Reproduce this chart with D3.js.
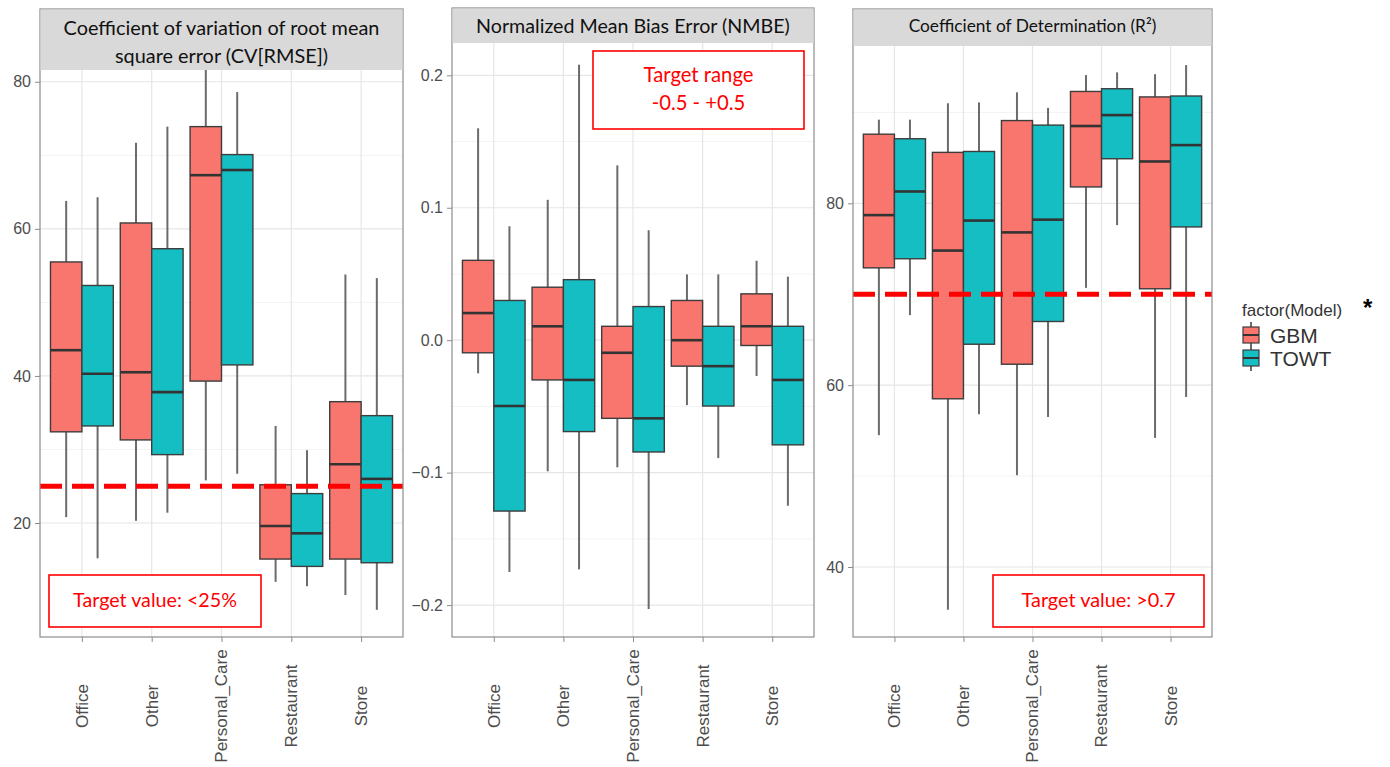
<!DOCTYPE html>
<html>
<head>
<meta charset="utf-8">
<script src="https://cdnjs.cloudflare.com/ajax/libs/d3/7.8.5/d3.min.js"></script>
<style>
    body { margin: 0; background: #fff; }
    svg { display: block; }
    .arial { font-family: "Liberation Sans", Arial, sans-serif; }
    .calib { font-family: "Lato", "Open Sans", sans-serif; }
</style>
</head>
<body>
<div id="chart"></div>
<script>
// categories and models
const categories = ["Office", "Other", "Personal_Care", "Restaurant", "Store"];
const models = ["GBM", "TOWT"];
const modelColors = ["#F8766D", "#14BEC3"];

// box stats per category: [lower whisker, Q1, median, Q3, upper whisker]
const cvrmseGBM = [
    [20.8, 32.4, 43.5, 55.5, 63.8],
    [20.3, 31.3, 40.5, 60.8, 71.7],
    [25.8, 39.3, 67.3, 73.9, 84.0],
    [12.0, 15.1, 19.6, 25.2, 33.2],
    [10.2, 15.1, 28.0, 36.5, 53.8]
];
const cvrmseTOWT = [
    [15.2, 33.2, 40.3, 52.3, 64.3],
    [21.4, 29.3, 37.8, 57.3, 73.9],
    [26.7, 41.5, 68.0, 70.1, 78.6],
    [11.4, 14.1, 18.6, 24.0, 29.9],
    [8.2, 14.6, 26.0, 34.6, 53.3]
];
const nmbeGBM = [
    [-0.025, -0.0095, 0.0205, 0.0603, 0.160],
    [-0.099, -0.030, 0.0105, 0.040, 0.106],
    [-0.096, -0.059, -0.0095, 0.0105, 0.132],
    [-0.049, -0.0196, 0.0, 0.030, 0.0497],
    [-0.027, -0.004, 0.0105, 0.035, 0.060]
];
const nmbeTOWT = [
    [-0.175, -0.129, -0.0497, 0.030, 0.086],
    [-0.173, -0.069, -0.030, 0.0457, 0.208],
    [-0.203, -0.0844, -0.059, 0.0254, 0.083],
    [-0.089, -0.0497, -0.0196, 0.0105, 0.0497],
    [-0.125, -0.079, -0.030, 0.0105, 0.048]
];
const r2GBM = [
    [54.5, 72.9, 78.7, 87.6, 89.2],
    [35.3, 58.5, 74.8, 85.6, 91.0],
    [50.1, 62.3, 76.8, 89.1, 92.2],
    [70.7, 81.8, 88.5, 92.3, 94.1],
    [54.2, 70.6, 84.6, 91.7, 94.2]
];
const r2TOWT = [
    [67.7, 73.9, 81.3, 87.1, 89.2],
    [56.8, 64.5, 78.1, 85.7, 91.1],
    [56.5, 67.0, 78.2, 88.6, 90.5],
    [77.6, 84.9, 89.7, 92.6, 94.4],
    [58.7, 77.4, 86.4, 91.8, 95.2]
];

// axis ticks
const cvrmseTicks = [20, 40, 60, 80];
const cvrmseMinor = [30, 50, 70];
const nmbeTicks = [-0.2, -0.1, 0.0, 0.1, 0.2];
const nmbeMinor = [-0.15, -0.05, 0.05, 0.15];
const r2Ticks = [40, 60, 80];
const r2Minor = [50, 70, 90];

// titles and targets
const cvrmseTitle = ["Coefficient of variation of root mean", "square error (CV[RMSE])"];
const nmbeTitle = ["Normalized Mean Bias Error (NMBE)"];
const r2Title = ["Coefficient of Determination (R\u00B2)"];
const cvrmseTarget = 25;
const r2Target = 70;
const cvrmseNote = ["Target value: <25%"];
const nmbeNote = ["Target range", "-0.5 - +0.5"];
const r2Note = ["Target value: >0.7"];

const W = 1390, H = 767;
const svg = d3.select("#chart").append("svg")
    .attr("width", W)
    .attr("height", H);

function fitText(sel, width) {
    const len = sel.node().getComputedTextLength();
    const size = parseFloat(sel.style("font-size"));
    sel.style("font-size", (size * width / len) + "px");
    return size * width / len;
}

class BoxPanel {
    constructor(_svg, _cfg) {
        this.svg = _svg;
        this.cfg = _cfg;
        this.initVis();
    }

    initVis() {
        const vis = this;
        const c = vis.cfg;

        vis.g = vis.svg.append("g");

        vis.x = d3.scalePoint().domain(categories).range([c.left, c.right]).padding(0.6);
        vis.y = d3.scaleLinear().domain(c.domain).range([c.bottom, c.top]);
        vis.step = vis.x.step();
        vis.inner = d3.scaleBand().domain(models).range([-0.45 * vis.step, 0.45 * vis.step]);

        vis.clipId = "clip" + c.id;
        vis.svg.append("clipPath").attr("id", vis.clipId)
            .append("rect")
            .attr("x", c.left).attr("y", c.top)
            .attr("width", c.right - c.left).attr("height", c.bottom - c.top);

        // Grid
        vis.g.selectAll(".minor").data(c.minor).join("line")
            .attr("x1", c.left).attr("x2", c.right)
            .attr("y1", d => vis.y(d)).attr("y2", d => vis.y(d))
            .attr("stroke", "#f3f3f3").attr("stroke-width", 1);
        vis.g.selectAll(".major").data(c.ticks).join("line")
            .attr("x1", c.left).attr("x2", c.right)
            .attr("y1", d => vis.y(d)).attr("y2", d => vis.y(d))
            .attr("stroke", "#e6e6e6").attr("stroke-width", 1.2);
        vis.g.selectAll(".vgrid").data(categories).join("line")
            .attr("x1", d => vis.x(d)).attr("x2", d => vis.x(d))
            .attr("y1", c.top).attr("y2", c.bottom)
            .attr("stroke", "#e6e6e6").attr("stroke-width", 1.2);

        // Axes
        vis.yAxis = vis.g.append("g")
            .attr("transform", `translate(${c.left}, 0)`)
            .call(d3.axisLeft(vis.y).tickValues(c.ticks).tickSize(5).tickPadding(4)
                .tickFormat(c.format));
        vis.xAxis = vis.g.append("g")
            .attr("transform", `translate(0, ${c.bottom})`)
            .call(d3.axisBottom(vis.x).tickSize(5).tickFormat(""));
        vis.g.selectAll(".domain").remove();
        vis.g.selectAll(".tick line").attr("stroke", "#8c8c8c");
        vis.yAxis.attr("font-family", null).attr("font-size", null);
        vis.yAxis.selectAll("text")
            .attr("class", "arial")
            .attr("fill", "#4d4d4d")
            .style("font-size", "16px");

        // rotated category labels
        vis.g.selectAll(".xlab").data(categories).join("text")
            .attr("class", "arial")
            .attr("transform", d => `translate(${vis.x(d)}, 706) rotate(-90)`)
            .attr("text-anchor", "middle")
            .attr("dy", "0.35em")
            .attr("fill", "#4d4d4d")
            .style("font-size", "17px")
            .text(d => d);

        vis.plot = vis.g.append("g").attr("clip-path", `url(#${vis.clipId})`);
    }

    update() {
        const vis = this;
        const c = vis.cfg;
        const rows = [];
        models.forEach((m, mi) => {
            c.series[mi].forEach((s, ci) => {
                rows.push({ cat: categories[ci], model: m, color: modelColors[mi],
                    lo: s[0], q1: s[1], med: s[2], q3: s[3], hi: s[4] });
            });
        });
        const bw = vis.inner.bandwidth();
        const cx = d => vis.x(d.cat) + vis.inner(d.model) + bw / 2;

        const box = vis.plot.selectAll(".box").data(rows).join("g").attr("class", "box");
        box.append("line")
            .attr("x1", cx).attr("x2", cx)
            .attr("y1", d => vis.y(d.hi)).attr("y2", d => vis.y(d.q3))
            .attr("stroke", "#6b6b6b").attr("stroke-width", 2);
        box.append("line")
            .attr("x1", cx).attr("x2", cx)
            .attr("y1", d => vis.y(d.q1)).attr("y2", d => vis.y(d.lo))
            .attr("stroke", "#6b6b6b").attr("stroke-width", 2);
        box.append("rect")
            .attr("x", d => vis.x(d.cat) + vis.inner(d.model))
            .attr("width", bw)
            .attr("y", d => vis.y(d.q3))
            .attr("height", d => vis.y(d.q1) - vis.y(d.q3))
            .attr("fill", d => d.color)
            .attr("stroke", "#3d3d3d").attr("stroke-width", 1.4);
        box.append("line")
            .attr("x1", d => vis.x(d.cat) + vis.inner(d.model))
            .attr("x2", d => vis.x(d.cat) + vis.inner(d.model) + bw)
            .attr("y1", d => vis.y(d.med)).attr("y2", d => vis.y(d.med))
            .attr("stroke", "#333").attr("stroke-width", 2.6);

        // target line
        if (c.target != null) {
            vis.plot.append("line")
                .attr("x1", c.left).attr("x2", c.right)
                .attr("y1", vis.y(c.target)).attr("y2", vis.y(c.target))
                .attr("stroke", "#ff0000").attr("stroke-width", 5)
                .attr("stroke-dasharray", "22,10");
        }

        // panel border + strip
        vis.g.append("rect")
            .attr("x", c.left).attr("y", c.stripTop)
            .attr("width", c.right - c.left).attr("height", c.bottom - c.stripTop)
            .attr("fill", "none").attr("stroke", "#8c8c8c").attr("stroke-width", 1.2);
        vis.g.append("rect")
            .attr("x", c.left + 0.5).attr("y", c.stripTop + 0.5)
            .attr("width", c.right - c.left - 1).attr("height", c.top - c.stripTop - 0.5)
            .attr("fill", "#d9d9d9");
        let size = null;
        c.title.forEach((t, i) => {
            const tx = vis.g.append("text")
                .attr("class", "calib")
                .attr("x", (c.left + c.right) / 2)
                .attr("y", c.titleY[i])
                .attr("text-anchor", "middle")
                .style("font-size", (size || 18) + "px")
                .attr("fill", "#111")
                .text(t);
            if (i === 0) size = fitText(tx, c.titleW);
        });

        // annotation box
        const n = c.note;
        vis.g.append("rect")
            .attr("x", n.x).attr("y", n.y).attr("width", n.w).attr("height", n.h)
            .attr("fill", "#fff").attr("stroke", "#ff0000").attr("stroke-width", 1.6);
        let nsize = null;
        n.lines.forEach((t, i) => {
            const tx = vis.g.append("text")
                .attr("class", "calib")
                .attr("x", n.x + n.w / 2)
                .attr("y", n.base[i])
                .attr("text-anchor", "middle")
                .style("font-size", (nsize || 18) + "px")
                .attr("fill", "#ff0000")
                .text(t);
            if (i === 0) nsize = fitText(tx, n.textW);
        });
    }
}

const fmt1 = d3.format(".1f");

const p1 = new BoxPanel(svg, {
    id: 1, left: 40, right: 403, stripTop: 9, top: 70, bottom: 637,
    domain: [4.5, 81.6], ticks: cvrmseTicks, minor: cvrmseMinor, format: d3.format("d"),
    series: [cvrmseGBM, cvrmseTOWT], target: cvrmseTarget,
    title: cvrmseTitle, titleY: [35, 63], titleW: 316,
    note: { x: 49, y: 575, w: 212, h: 52, lines: cvrmseNote, base: [607], textW: 164 }
});
p1.update();

const p2 = new BoxPanel(svg, {
    id: 2, left: 452, right: 814, stripTop: 8, top: 43, bottom: 637,
    domain: [-0.2241, 0.2244], ticks: nmbeTicks, minor: nmbeMinor, format: fmt1,
    series: [nmbeGBM, nmbeTOWT], target: null,
    title: nmbeTitle, titleY: [33], titleW: 314,
    note: { x: 593, y: 51, w: 211, h: 78, lines: nmbeNote, base: [82, 110], textW: 110 }
});
p2.update();

const p3 = new BoxPanel(svg, {
    id: 3, left: 853, right: 1212, stripTop: 9, top: 46, bottom: 637,
    domain: [32.3, 97.3], ticks: r2Ticks, minor: r2Minor, format: d3.format("d"),
    series: [r2GBM, r2TOWT], target: r2Target,
    title: r2Title, titleY: [32], titleW: 248,
    note: { x: 993, y: 575, w: 211, h: 52, lines: r2Note, base: [607], textW: 154 }
});
p3.update();

// Legend
const legend = svg.append("g");
legend.append("text")
    .attr("class", "arial")
    .attr("x", 1242).attr("y", 316)
    .style("font-size", "17px").attr("fill", "#333")
    .text("factor(Model)");
legend.append("text")
    .attr("class", "arial")
    .attr("x", 1363).attr("y", 316)
    .style("font-size", "24px").attr("font-weight", "bold").attr("fill", "#000")
    .text("*");
const keys = legend.selectAll(".key").data(models).join("g")
    .attr("transform", (d, i) => `translate(1243, ${322 + i * 23})`);
keys.append("line")
    .attr("x1", 8).attr("x2", 8).attr("y1", 0).attr("y2", 26)
    .attr("stroke", "#6b6b6b").attr("stroke-width", 2);
keys.append("rect")
    .attr("x", 0).attr("y", 5).attr("width", 16).attr("height", 16)
    .attr("fill", (d, i) => modelColors[i])
    .attr("stroke", "#3d3d3d").attr("stroke-width", 1.2);
keys.append("line")
    .attr("x1", 0).attr("x2", 16).attr("y1", 13).attr("y2", 13)
    .attr("stroke", "#333").attr("stroke-width", 2);
keys.append("text")
    .attr("class", "arial")
    .attr("x", 27).attr("y", 21)
    .style("font-size", "21px").attr("fill", "#333")
    .text(d => d);
</script>
</body>
</html>
